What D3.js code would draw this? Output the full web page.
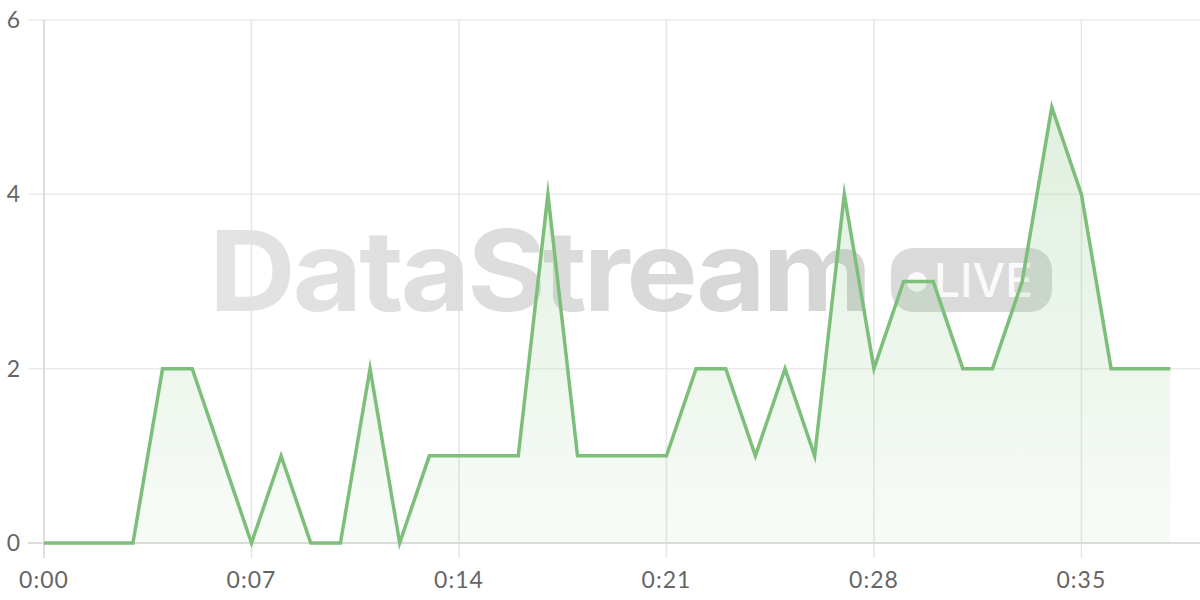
<!DOCTYPE html>
<html>
<head>
<meta charset="utf-8">
<script src="https://cdn.jsdelivr.net/npm/d3@7"></script>
<style>
html,body{margin:0;padding:0;background:#fff;}
svg{display:block;}
</style>
</head>
<body>
<svg id="chart" width="1200" height="600"></svg>
<script>
const seconds = [0,1,2,3,4,5,6,7,8,9,10,11,12,13,14,15,16,17,18,19,20,21,22,23,24,25,26,27,28,29,30,31,32,33,34,35,36,37,38];
const values  = [0,0,0,0,2,2,1,0,1,0,0,2,0,1,1,1,1,4,1,1,1,1,2,2,1,2,1,4,2,3,3,2,2,3,5,4,2,2,2];
const xTicks = [0,7,14,21,28,35];
const xTickLabels = ["0:00","0:07","0:14","0:21","0:28","0:35"];
const yTicks = [0,2,4,6];
const watermarkText = "DataStream";
const badgeText = "LIVE";

const svg = d3.select("#chart");
const x = d3.scaleLinear().domain([0,39]).range([44,1200]);
const y = d3.scaleLinear().domain([0,6]).range([543,20]);

const defs = svg.append("defs");
const wg = defs.append("linearGradient").attr("id","wm").attr("x1","0").attr("x2","1").attr("y1","0").attr("y2","0");
wg.append("stop").attr("offset","0").attr("stop-color","#e2e2e2");
wg.append("stop").attr("offset","1").attr("stop-color","#d2d2d2");
const ag = defs.append("linearGradient").attr("id","area").attr("gradientUnits","userSpaceOnUse")
  .attr("x1",0).attr("x2",0).attr("y1",y(6)).attr("y2",y(0));
ag.append("stop").attr("offset","0").attr("stop-color","#7dbf7a").attr("stop-opacity",0.28);
ag.append("stop").attr("offset","1").attr("stop-color","#7dbf7a").attr("stop-opacity",0.06);

// grid
const grid = svg.append("g");
grid.selectAll(".hg").data(yTicks).join("line")
  .attr("x1",28).attr("x2",1200).attr("y1",d=>y(d)).attr("y2",d=>y(d))
  .attr("stroke","#ebebeb").attr("stroke-width",1.5);
grid.selectAll(".vg").data(xTicks.slice(1)).join("line")
  .attr("x1",d=>x(d)).attr("x2",d=>x(d)).attr("y1",y(6)).attr("y2",558)
  .attr("stroke","#e6e6e6").attr("stroke-width",1.5);

// watermark
const wm = svg.append("g").attr("opacity",1);
wm.append("text").attr("x",209).attr("y",311)
  .attr("font-family","Inter, 'DejaVu Sans', sans-serif").attr("font-weight",700)
  .attr("font-size",112).attr("letter-spacing",-3)
  .attr("textLength",660).attr("lengthAdjust","spacingAndGlyphs")
  .attr("fill","url(#wm)").attr("fill-opacity",0.95).text(watermarkText);
wm.append("rect").attr("x",891).attr("y",248).attr("width",161).attr("height",64).attr("rx",22)
  .attr("fill","#d4d4d4").attr("fill-opacity",0.85);
wm.append("circle").attr("cx",917).attr("cy",282).attr("r",10).attr("fill","#fff").attr("fill-opacity",0.85);
wm.append("text").attr("x",934).attr("y",297)
  .attr("font-family","Inter, 'DejaVu Sans', sans-serif").attr("font-weight",500)
  .attr("font-size",47).attr("fill","#fff").attr("fill-opacity",0.9)
  .attr("textLength",99).attr("lengthAdjust","spacingAndGlyphs").text(badgeText);

// axes lines
svg.append("line").attr("x1",x(0)).attr("x2",x(0)).attr("y1",y(6)).attr("y2",558)
  .attr("stroke","#d3d3d3").attr("stroke-width",1.5);
svg.append("line").attr("x1",28).attr("x2",1200).attr("y1",y(0)).attr("y2",y(0))
  .attr("stroke","#d6d6d6").attr("stroke-width",1.5);

// area & line
const data = seconds.map((s,i)=>({s, v: values[i]}));
svg.append("path").datum(data)
  .attr("d", d3.area().x(d=>x(d.s)).y0(y(0)).y1(d=>y(d.v)))
  .attr("fill","url(#area)");
svg.append("path").datum(data)
  .attr("d", d3.line().x(d=>x(d.s)).y(d=>y(d.v)))
  .attr("fill","none").attr("stroke","#7dbf7a").attr("stroke-width",3.5)
  .attr("stroke-linejoin","miter").attr("stroke-miterlimit",10);

// tick labels
svg.append("g").selectAll("text").data(xTicks).join("text")
  .attr("x",d=>x(d)).attr("y",588).attr("text-anchor","middle")
  .attr("font-family","Lato, 'Open Sans', sans-serif").attr("font-size",23)
  .attr("letter-spacing",1).attr("fill","#666").text((d,i)=>xTickLabels[i]);
svg.append("g").selectAll("text").data(yTicks).join("text")
  .attr("x",20).attr("y",d=>y(d)+8).attr("text-anchor","end")
  .attr("font-family","Lato, 'Open Sans', sans-serif").attr("font-size",23)
  .attr("fill","#666").text(d=>d);
</script>
</body>
</html>
